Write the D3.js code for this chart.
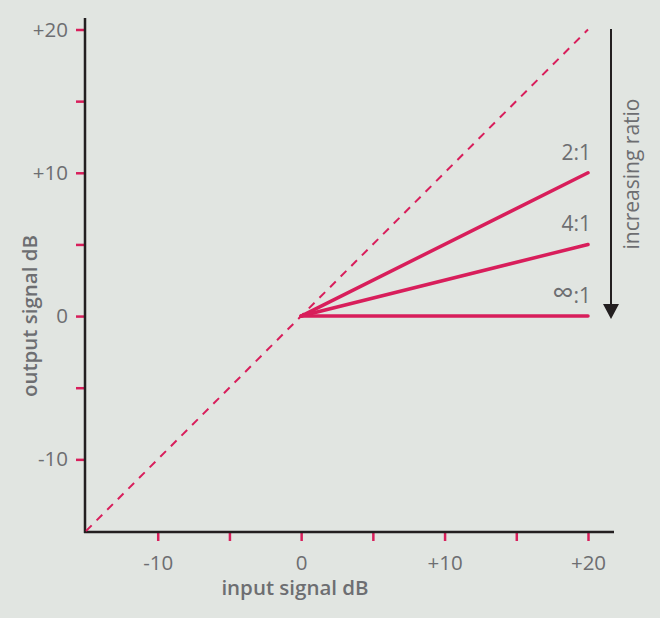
<!DOCTYPE html>
<html>
<head>
<meta charset="utf-8">
<script src="https://cdn.jsdelivr.net/npm/d3@7"></script>
<style>
  body { margin: 0; background: #e1e5e1; }
  svg { display: block; font-family: "Open Sans", "Noto Sans", sans-serif; }
</style>
</head>
<body>
<div id="chart"></div>
<script>
// compressor transfer curves: input dB -> output dB
const ratioLabels = ["2", "4", "∞"];
const ratioInputs = [0, 20];
const ratioOutputs = [[0, 10], [0, 5], [0, 0]];
const unityLine = [[-15, -15], [20, 20]];
const xTicks = [-10, -5, 0, 5, 10, 15, 20];
const yTicks = [-10, -5, 0, 5, 10, 15, 20];
const labelTicks = [-10, 0, 10, 20];

const W = 660, H = 618;
const pink = "#d81e5b", ink = "#231f20", grey = "#6d6e71";

const svg = d3.select("#chart").append("svg").attr("width", W).attr("height", H);

const x = d3.scaleLinear().domain([-15, 20]).range([86, 588]);
const y = d3.scaleLinear().domain([-15, 20]).range([531, 29.5]);
const fmt = d => d > 0 ? "+" + d : String(d);

// axes
const xAxis = svg.append("g").attr("transform", "translate(0,532)")
    .call(d3.axisBottom(x).tickValues(xTicks).tickSize(9).tickFormat(d => labelTicks.includes(d) ? fmt(d) : ""));
const yAxis = svg.append("g").attr("transform", "translate(85,0)")
    .call(d3.axisLeft(y).tickValues(yTicks).tickSize(9).tickFormat(d => labelTicks.includes(d) ? fmt(d) : ""));

[xAxis, yAxis].forEach(a => {
  a.select(".domain").remove();
  a.selectAll(".tick line").attr("stroke", pink).attr("stroke-width", 2.5);
  a.selectAll(".tick text").attr("fill", grey).attr("font-size", 20.5).attr("font-family", "Open Sans, sans-serif");
});
xAxis.selectAll(".tick text").attr("dy", "1.25em");
yAxis.selectAll(".tick text").attr("x", -17).attr("dy", "0.32em");

svg.append("line").attr("x1", 85).attr("x2", 85).attr("y1", 18).attr("y2", 533)
    .attr("stroke", ink).attr("stroke-width", 2.5);
svg.append("line").attr("x1", 84).attr("x2", 614).attr("y1", 532).attr("y2", 532)
    .attr("stroke", ink).attr("stroke-width", 2.5);

// unity (1:1) dashed line
svg.append("path")
    .attr("d", d3.line().x(d => x(d[0])).y(d => y(d[1]))(unityLine))
    .attr("fill", "none").attr("stroke", pink).attr("stroke-width", 2)
    .attr("stroke-dasharray", "8,7");

// ratio lines
ratioOutputs.forEach((outs, i) => {
  const pts = ratioInputs.map((v, j) => [v, outs[j]]);
  svg.append("path")
      .attr("d", d3.line().x(d => x(d[0])).y(d => y(d[1]))(pts))
      .attr("fill", "none").attr("stroke", pink).attr("stroke-width", 3.5)
      .attr("stroke-linecap", "round");
  const t = svg.append("text")
      .attr("x", x(20) + 3).attr("y", y(outs[1]) - 13)
      .attr("text-anchor", "end").attr("fill", grey).attr("font-size", 21);
  t.append("tspan").attr("font-size", ratioLabels[i] === "∞" ? 30 : 21).text(ratioLabels[i]);
  t.append("tspan").text(":1");
});

// arrow
svg.append("line").attr("x1", 611).attr("x2", 611).attr("y1", 29).attr("y2", 306)
    .attr("stroke", ink).attr("stroke-width", 2);
svg.append("path").attr("d", "M603,304L619,304L611,319Z").attr("fill", ink);

svg.append("text").attr("transform", "translate(639,174) rotate(-90)")
    .attr("text-anchor", "middle").attr("fill", grey).attr("font-size", 21)
    .text("increasing ratio");

// axis titles
svg.append("text").attr("x", 295).attr("y", 595)
    .attr("text-anchor", "middle").attr("fill", grey).attr("font-size", 20.5).attr("font-weight", 600)
    .text("input signal dB");
svg.append("text").attr("transform", "translate(37,316) rotate(-90)")
    .attr("text-anchor", "middle").attr("fill", grey).attr("font-size", 20.5).attr("font-weight", 600)
    .text("output signal dB");
</script>
</body>
</html>
